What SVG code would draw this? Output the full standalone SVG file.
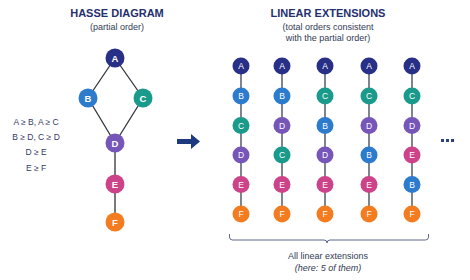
<svg xmlns="http://www.w3.org/2000/svg" width="470" height="280" viewBox="0 0 470 280">
<style>
.title{font-family:"Liberation Sans",Arial,sans-serif;font-weight:bold;font-size:11px;fill:#24306e;text-anchor:middle}
.sub{font-family:"Liberation Sans",Arial,sans-serif;font-size:9px;fill:#333a55;text-anchor:middle}
.rel{font-family:"Liberation Sans",Arial,sans-serif;font-size:8.5px;fill:#333a62;text-anchor:middle}
.lbl{font-family:"Liberation Sans",Arial,sans-serif;font-weight:bold;font-size:9.5px;fill:#fff;text-anchor:middle}
.lbs{font-family:"Liberation Sans",Arial,sans-serif;font-size:8.5px;fill:#fff;text-anchor:middle}
.hedge{stroke:#2f3440;stroke-width:1.3;fill:none}
.ledge{stroke:#5f6673;stroke-width:1.6;fill:none}
.nA{fill:#272f86}.nB{fill:#2d7bcc}.nC{fill:#1a9a8a}.nD{fill:#7656b8}.nE{fill:#cc4389}.nF{fill:#f47c20}
</style>
<rect width="470" height="280" fill="#fff"/>
<text class="title" x="117" y="17">HASSE DIAGRAM</text>
<text class="sub" x="117" y="30">(partial order)</text>
<text class="title" x="328" y="17">LINEAR EXTENSIONS</text>
<text class="sub" x="328" y="30">(total orders consistent</text>
<text class="sub" x="328" y="41">with the partial order)</text>
<g id="relations">
<text class="rel" x="36" y="125">A ≥ B, A ≥ C</text>
<text class="rel" x="36" y="140">B ≥ D, C ≥ D</text>
<text class="rel" x="36" y="155">D ≥ E</text>
<text class="rel" x="36" y="171">E ≥ F</text>
</g>
<g id="connectors">
<path class="hedge" d="M115 58L88 98M115 58L143 98M88 98L115 143M143 98L115 143M115 143L115 184L115 222"/>
<path class="ledge" d="M241 66V214M282 66V214M325 66V214M369 66V214M412 66V214"/>
</g>
<g id="hA"><circle class="nA" cx="115" cy="58" r="9.5"/><text class="lbl" x="115" y="61.5">A</text></g>
<g id="hB"><circle class="nB" cx="88" cy="98" r="9.5"/><text class="lbl" x="88" y="101.5">B</text></g>
<g id="hC"><circle class="nC" cx="143" cy="98" r="9.5"/><text class="lbl" x="143" y="101.5">C</text></g>
<g id="hD"><circle class="nD" cx="115" cy="143" r="9.5"/><text class="lbl" x="115" y="146.5">D</text></g>
<g id="hE"><circle class="nE" cx="115" cy="184" r="9.5"/><text class="lbl" x="115" y="187.5">E</text></g>
<g id="hF"><circle class="nF" cx="115" cy="222" r="9.5"/><text class="lbl" x="115" y="225.5">F</text></g>
<g id="arrow"><path d="M177 139H191V134L200 141.5L191 149V144H177Z" fill="#1d3a7e"/></g>
<g id="ext1">
<circle class="nA" cx="241" cy="66" r="8.5"/><text class="lbs" x="241" y="69">A</text>
<circle class="nB" cx="241" cy="96" r="8.5"/><text class="lbs" x="241" y="99">B</text>
<circle class="nC" cx="241" cy="125.5" r="8.5"/><text class="lbs" x="241" y="128.5">C</text>
<circle class="nD" cx="241" cy="155" r="8.5"/><text class="lbs" x="241" y="158">D</text>
<circle class="nE" cx="241" cy="184.5" r="8.5"/><text class="lbs" x="241" y="187.5">E</text>
<circle class="nF" cx="241" cy="214" r="8.5"/><text class="lbs" x="241" y="217">F</text>
</g>
<g id="ext2">
<circle class="nA" cx="282" cy="66" r="8.5"/><text class="lbs" x="282" y="69">A</text>
<circle class="nB" cx="282" cy="96" r="8.5"/><text class="lbs" x="282" y="99">B</text>
<circle class="nD" cx="282" cy="125.5" r="8.5"/><text class="lbs" x="282" y="128.5">D</text>
<circle class="nC" cx="282" cy="155" r="8.5"/><text class="lbs" x="282" y="158">C</text>
<circle class="nE" cx="282" cy="184.5" r="8.5"/><text class="lbs" x="282" y="187.5">E</text>
<circle class="nF" cx="282" cy="214" r="8.5"/><text class="lbs" x="282" y="217">F</text>
</g>
<g id="ext3">
<circle class="nA" cx="325" cy="66" r="8.5"/><text class="lbs" x="325" y="69">A</text>
<circle class="nC" cx="325" cy="96" r="8.5"/><text class="lbs" x="325" y="99">C</text>
<circle class="nB" cx="325" cy="125.5" r="8.5"/><text class="lbs" x="325" y="128.5">B</text>
<circle class="nD" cx="325" cy="155" r="8.5"/><text class="lbs" x="325" y="158">D</text>
<circle class="nE" cx="325" cy="184.5" r="8.5"/><text class="lbs" x="325" y="187.5">E</text>
<circle class="nF" cx="325" cy="214" r="8.5"/><text class="lbs" x="325" y="217">F</text>
</g>
<g id="ext4">
<circle class="nA" cx="369" cy="66" r="8.5"/><text class="lbs" x="369" y="69">A</text>
<circle class="nC" cx="369" cy="96" r="8.5"/><text class="lbs" x="369" y="99">C</text>
<circle class="nD" cx="369" cy="125.5" r="8.5"/><text class="lbs" x="369" y="128.5">D</text>
<circle class="nB" cx="369" cy="155" r="8.5"/><text class="lbs" x="369" y="158">B</text>
<circle class="nE" cx="369" cy="184.5" r="8.5"/><text class="lbs" x="369" y="187.5">E</text>
<circle class="nF" cx="369" cy="214" r="8.5"/><text class="lbs" x="369" y="217">F</text>
</g>
<g id="ext5">
<circle class="nA" cx="412" cy="66" r="8.5"/><text class="lbs" x="412" y="69">A</text>
<circle class="nC" cx="412" cy="96" r="8.5"/><text class="lbs" x="412" y="99">C</text>
<circle class="nD" cx="412" cy="125.5" r="8.5"/><text class="lbs" x="412" y="128.5">D</text>
<circle class="nE" cx="412" cy="155" r="8.5"/><text class="lbs" x="412" y="158">E</text>
<circle class="nB" cx="412" cy="184.5" r="8.5"/><text class="lbs" x="412" y="187.5">B</text>
<circle class="nF" cx="412" cy="214" r="8.5"/><text class="lbs" x="412" y="217">F</text>
</g>
<g id="ellipsis" fill="#2a3f85">
<rect x="441" y="139" width="3" height="3"/><rect x="446" y="139" width="3" height="3"/><rect x="451" y="139" width="3" height="3"/>
</g>
<g id="brace">
<path d="M229.5 234V237Q229.5 240 232.5 240H324Q327 240 327 243Q327 240 330 240H425.5Q428.5 240 428.5 237V234" fill="none" stroke="#4d587a" stroke-width="0.9"/>
<text class="sub" x="328" y="259">All linear extensions</text>
<text class="sub" x="328" y="271" font-style="italic">(here: 5 of them)</text>
</g>
</svg>
